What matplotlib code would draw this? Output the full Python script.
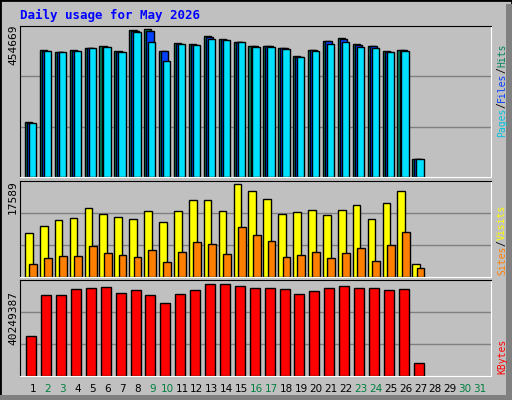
import matplotlib
matplotlib.use("Agg")
import matplotlib.pyplot as plt
import numpy as np
from matplotlib.patches import Rectangle

days = list(range(1, 32))
max_top = 454669
max_mid = 17589
max_bot = 40249387
hits_px  = [122,50,52,50,48,46,51,30,29,51,43,44,36,39,42,46,46,48,56,50,41,38,44,46,51,50,159]
files_px = [123,51,52,51,48,47,52,31,31,51,44,45,37,40,42,46,46,48,57,50,41,39,45,46,52,50,159]
pages_px = [123,51,52,51,48,47,52,32,42,61,44,45,39,40,42,47,47,49,57,51,44,42,47,48,52,51,159]
hits  = [(177 - p) / 151 * max_top for p in hits_px]
files = [(177 - p) / 151 * max_top for p in files_px]
pages = [(177 - p) / 151 * max_top for p in pages_px]
visits_px = [175,154,136,130,100,118,127,133,109,142,109,76,76,109,28,49,73,118,112,106,121,106,91,133,85,49,268]
sites_px  = [268,250,244,244,214,235,241,247,226,262,232,202,208,238,157,181,199,247,241,232,250,235,220,259,211,172,280]
visits = [(305 - p) / 289 * max_mid for p in visits_px]
sites  = [(305 - p) / 289 * max_mid for p in sites_px]
kb_px = [484,361,361,343,340,337,355,346,361,385,358,346,328,328,334,340,340,343,358,349,340,334,340,340,346,343,565]
kbytes = [(602 - p) / 286 * max_bot for p in kb_px]
weekend = [2,3,9,10,16,17,23,24,30,31]

BG = "#C0C0C0"
W, H = 512, 400
fig = plt.figure(figsize=(5.12, 4.0), dpi=100, facecolor=BG)
fig.patches.append(Rectangle((0, 0), 1, 1, transform=fig.transFigure, fill=False, ec="black", lw=2))
fig.patches.append(Rectangle((0.988, 0.0), 0.012, 0.99, transform=fig.transFigure, fc="#808080", ec="none"))
fig.patches.append(Rectangle((0.0, 0.0), 1, 0.012, transform=fig.transFigure, fc="#808080", ec="none"))

def ax_px(x0, y0, x1, y1):
    return fig.add_axes([x0 / W, 1 - y1 / H, (x1 - x0) / W, (y1 - y0) / H])

XL = (0.128, 31.74)
n = len(hits)
d = np.arange(1, n + 1)

def style(ax, ymax):
    ax.set_xlim(*XL)
    ax.set_ylim(0, ymax)
    ax.set_facecolor(BG)
    for y in (ymax / 3, 2 * ymax / 3):
        ax.axhline(y, color="#808080", lw=1, zorder=0)
    ax.set_xticks([]); ax.set_yticks([])
    for s in ax.spines.values():
        s.set_color("black")
    ax.spines["right"].set_color("white")
    ax.spines["bottom"].set_color("white")

ax1 = ax_px(20, 26, 491, 177)
style(ax1, max_top)
kw = dict(align="edge", width=0.49, edgecolor="black", linewidth=1, zorder=2)
ax1.bar(d - 0.54, hits, color="#00805C", **kw)
ax1.bar(d - 0.40, files, color="#0040FF", **kw)
ax1.bar(d - 0.27, pages, color="#00E0FF", **kw)

ax2 = ax_px(20, 180.5, 491, 276.7)
style(ax2, max_mid)
kw = dict(align="edge", width=0.52, edgecolor="black", linewidth=1, zorder=2)
ax2.bar(d - 0.54, visits, color="#FFFF00", **kw)
ax2.bar(d - 0.25, sites, color="#FF8000", **kw)

ax3 = ax_px(20, 280.3, 491, 375.7)
style(ax3, max_bot)
ax3.bar(d - 0.45, kbytes, align="edge", width=0.67, color="#FF0000", edgecolor="black", linewidth=1, zorder=2)

mono = "DejaVu Sans Mono"
fig.text(20 / W, 1 - 15 / H, "Daily usage for May 2026", color="#0000FF", fontsize=9,
         fontweight="bold", family=mono, va="center", ha="left")
for txt, yc in (("454669", 45), ("17589", 197), ("40249387", 318)):
    fig.text(13 / W, 1 - yc / H, txt, rotation=90, fontsize=8, family=mono, ha="center", va="center")

CH = 0.602 * 7 * 100 / 72  # char advance in px at 7pt mono

def vlabel(parts, x, ybot):
    y = ybot
    for t, c in parts:
        fig.text(x / W, 1 - y / H, t, rotation=90, color=c, fontsize=7, family=mono,
                 ha="center", va="bottom")
        y -= len(t) * CH

vlabel([("Pages", "#00C0E0"), ("/", "black"), ("Files", "#0040FF"), ("/", "black"), ("Hits", "#00805C")], 502, 137)
vlabel([("Sites", "#FF8000"), ("/", "black"), ("Visits", "#FFFF00")], 502, 275)
vlabel([("KBytes", "#FF0000")], 502, 374)

for day in days:
    xp = 33 + (day - 1) * 14.9
    fig.text(xp / W, 1 - 389 / H, str(day), fontsize=7.5, family="DejaVu Sans",
             color="#008040" if day in weekend else "black", ha="center", va="center")

fig.savefig("out.png", dpi=100, facecolor=BG)
